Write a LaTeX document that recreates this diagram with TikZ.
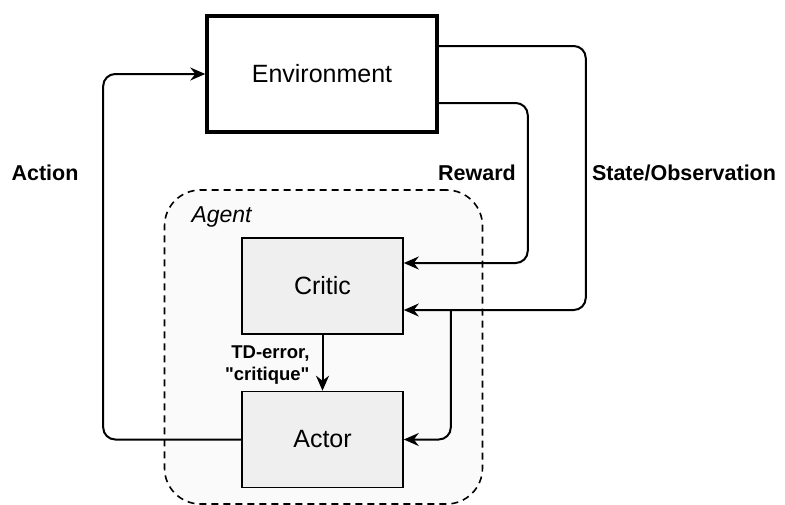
\documentclass[tikz,border=0pt]{standalone}
\usepackage{fontspec}
\setmainfont{Liberation Sans}
\usetikzlibrary{arrows.meta,calc}
\definecolor{boxfill}{HTML}{EFEFEF}
\definecolor{agentfill}{HTML}{FAFAFA}
\begin{document}
\begin{tikzpicture}[x=1pt,y=-1pt,
  tip/.style={-{Stealth[length=15pt,width=13pt,inset=5pt]}},
  flow/.style={line width=2pt,tip,rounded corners=12pt},
  block/.style={draw,line width=1.6pt,fill=boxfill,minimum width=161pt,minimum height=96pt,inner sep=0pt,font=\fontsize{25}{29}\selectfont},
  lbl/.style={font=\bfseries\fontsize{21.5}{25}\selectfont},
  small/.style={font=\bfseries\fontsize{18.5}{22}\selectfont,align=right}]
\useasboundingbox (0,0) rectangle (785,504);
% dashed agent container
\node[draw,dash pattern=on 7pt off 5pt,line width=1.6pt,fill=agentfill,rounded corners=36pt,minimum width=318pt,minimum height=314pt,inner sep=0pt] (agent) at (323.5,347) {};
\node[anchor=west,font=\itshape\fontsize{23}{27}\selectfont] (agentlbl) at (188,217) {Agent};
% blocks
\node[draw,line width=3.5pt,fill=white,minimum width=230pt,minimum height=116pt,inner sep=0pt,font=\fontsize{25}{29}\selectfont] (env) at (322,74) {Environment};
\node[block] (critic) at (322.5,286) {Critic};
\node[block] (actor) at (322.5,439.5) {Actor};
% connectors
\draw[flow] (actor.west) -- ++(-138,0) |- (env.west);
\draw[flow] ($(env.east)+(0,29)$) -- ++(89,0) |- ($(critic.east)+(0,-23)$);
\draw[flow] ($(env.east)+(0,-28)$) -- ++(147,0) |- ($(critic.east)+(0,24)$);
\coordinate (br) at ($(critic.east)+(47,24)$);
\draw[flow] (br) |- (actor.east);
\draw[line width=2pt,tip] (critic) -- (actor);
% labels
\node[lbl] (actionlbl) at (45,173) {Action};
\node[lbl] (rewardlbl) at (477,173) {Reward};
\node[lbl] (statelbl) at (684,173) {State/Observation};
\node[small,anchor=east] (tdlbl) at (313,365) {TD-error,\\\textquotedbl critique\textquotedbl};
\end{tikzpicture}
\end{document}
